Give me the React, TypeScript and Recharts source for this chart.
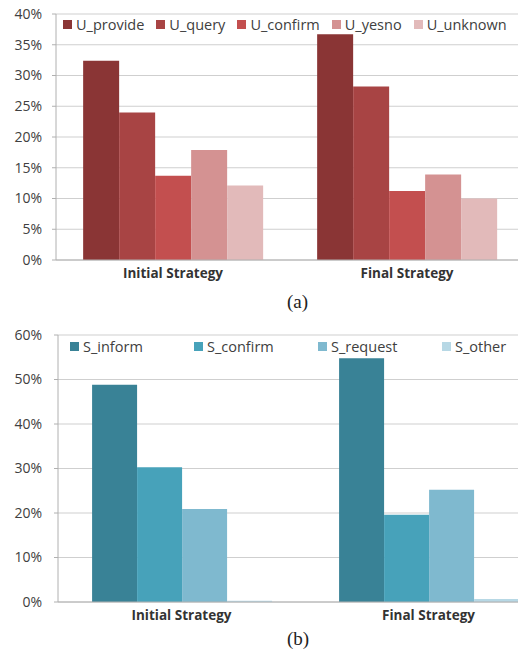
import React from 'react';
import { BarChart, Bar, XAxis, YAxis, CartesianGrid, Legend } from 'recharts';

// (a) user act distribution
const categories = ['Initial Strategy', 'Final Strategy'];
const uProvide = [32.4, 36.7];
const uQuery = [24.0, 28.2];
const uConfirm = [13.7, 11.2];
const uYesno = [17.9, 13.9];
const uUnknown = [12.1, 10.0];
const userTicks = [0, 5, 10, 15, 20, 25, 30, 35, 40];
const userSeries = ['U_provide', 'U_query', 'U_confirm', 'U_yesno', 'U_unknown'];
const userColors = ['#8a3535', '#a84444', '#c34f4f', '#d49292', '#e2baba'];

// (b) system act distribution
const sInform = [48.8, 54.8];
const sConfirm = [30.3, 19.6];
const sRequest = [20.9, 25.2];
const sOther = [0.3, 0.7];
const sysTicks = [0, 10, 20, 30, 40, 50, 60];
const sysSeries = ['S_inform', 'S_confirm', 'S_request', 'S_other'];
const sysColors = ['#398296', '#47a2ba', '#7fb9cf', '#b7d8e5'];

const userData = categories.map((name, i) => ({
  name,
  U_provide: uProvide[i],
  U_query: uQuery[i],
  U_confirm: uConfirm[i],
  U_yesno: uYesno[i],
  U_unknown: uUnknown[i],
}));

const sysData = categories.map((name, i) => ({
  name,
  S_inform: sInform[i],
  S_confirm: sConfirm[i],
  S_request: sRequest[i],
  S_other: sOther[i],
}));

const FONT = '"Open Sans", sans-serif';
const TEXT = '#404040';

// legend in series order (recharts sorts the payload by name otherwise)
function makeLegend(names: string[], colors: string[], itemWidth?: number, gap = 0) {
  return () => (
    <div style={{ display: 'flex', fontFamily: FONT, fontSize: 14.5, color: TEXT, whiteSpace: 'nowrap' }}>
      {names.map((n, i) => (
        <div key={n} style={{ display: 'flex', alignItems: 'center', width: itemWidth, marginRight: gap }}>
          <span style={{ display: 'inline-block', width: 9, height: 9, background: colors[i], marginRight: 4 }} />
          {n}
        </div>
      ))}
    </div>
  );
}

const tickX = (props: any) => {
  const { x, y, payload } = props;
  return (
    <text x={x} y={y + 10} textAnchor="middle" fontFamily={FONT} fontSize={13.5} fontWeight={700} fill="#333">
      {payload.value}
    </text>
  );
};

export default function App() {
  return (
    <div style={{ position: 'absolute', left: 0, top: 0, width: 518, height: 658, overflow: 'hidden', background: '#fff' }}>
      {/* (a) */}
      <div style={{ position: 'absolute', left: 0, top: 0 }}>
        <BarChart
          width={530}
          height={290}
          data={userData}
          margin={{ top: 14, right: 6, bottom: 10, left: 0 }}
          barGap={0}
          barCategoryGap="11.6%"
        >
          <CartesianGrid vertical={false} stroke="#cfcfcf" />
          <XAxis dataKey="name" tickLine={false} axisLine={{ stroke: '#b0b0b0' }} height={20} tick={tickX} />
          <YAxis
            width={56}
            domain={[0, 40]}
            ticks={userTicks}
            tickFormatter={(v) => `${v}%`}
            axisLine={{ stroke: '#b0b0b0' }}
            tickLine={{ stroke: '#b0b0b0' }}
            tickSize={4}
            tickMargin={10}
            tick={{ fontFamily: FONT, fontSize: 14, fill: TEXT }}
            interval={0}
          />
          <Legend
            verticalAlign="middle"
            align="center"
            layout="horizontal"
            wrapperStyle={{ top: 15, left: 63, width: 470 }}
            content={makeLegend(userSeries, userColors, undefined, 12)}
          />
          {userSeries.map((s, i) => (
            <Bar key={s} dataKey={s} fill={userColors[i]} isAnimationActive={false} />
          ))}
        </BarChart>
      </div>
      <div style={{ position: 'absolute', left: 287, top: 291, fontFamily: 'serif', fontSize: 19, color: '#222' }}>(a)</div>

      {/* (b) */}
      <div style={{ position: 'absolute', left: 0, top: 315 }}>
        <BarChart
          width={560}
          height={310}
          data={sysData}
          margin={{ top: 20, right: 8, bottom: 3, left: 0 }}
          barGap={0}
          barCategoryGap="13.8%"
        >
          <CartesianGrid vertical={false} stroke="#cfcfcf" />
          <XAxis dataKey="name" tickLine={false} axisLine={{ stroke: '#b0b0b0' }} height={20} tick={tickX} />
          <YAxis
            width={58}
            domain={[0, 60]}
            ticks={sysTicks}
            tickFormatter={(v) => `${v}%`}
            axisLine={{ stroke: '#b0b0b0' }}
            tickLine={{ stroke: '#b0b0b0' }}
            tickSize={4}
            tickMargin={12}
            tick={{ fontFamily: FONT, fontSize: 14, fill: TEXT }}
            interval={0}
          />
          <Legend
            verticalAlign="middle"
            align="center"
            layout="horizontal"
            wrapperStyle={{ top: 22, left: 70, width: 500 }}
            content={makeLegend(sysSeries, sysColors, 124)}
          />
          {sysSeries.map((s, i) => (
            <Bar key={s} dataKey={s} fill={sysColors[i]} isAnimationActive={false} />
          ))}
        </BarChart>
      </div>
      <div style={{ position: 'absolute', left: 287, top: 628, fontFamily: 'serif', fontSize: 19, color: '#222' }}>(b)</div>
    </div>
  );
}
